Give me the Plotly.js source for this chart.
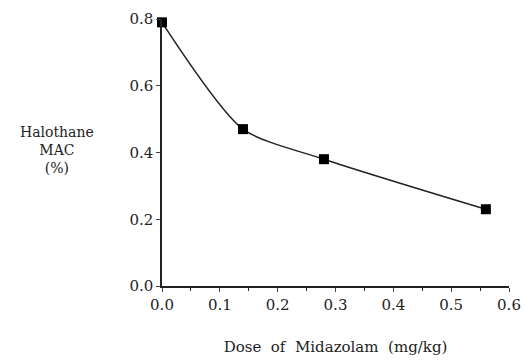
<!DOCTYPE html>
<html><head><meta charset="utf-8">
<script src="https://cdn.plot.ly/plotly-3.0.1.min.js"></script>
<style>body{margin:0;background:#fff}#c{width:525px;height:362px}</style>
</head><body><div id="c"></div>
<script>
const dose = [0.0, 0.14, 0.28, 0.56];
const mac = [0.79, 0.47, 0.38, 0.23];
const xTicks = [0, 0.1, 0.2, 0.3, 0.4, 0.5, 0.6];
const xTickLabels = ['0.0', '0.1', '0.2', '0.3', '0.4', '0.5', '0.6'];
const yTicks = [0, 0.2, 0.4, 0.6, 0.8];
const yTickLabels = ['0.0', '0.2', '0.4', '0.6', '0.8'];

const font = {family: 'DejaVu Serif, Liberation Serif, serif', color: '#222', size: 14};
Plotly.newPlot('c', [{
  x: dose, y: mac, type: 'scatter', mode: 'lines+markers',
  line: {color: '#222', width: 1.5, shape: 'spline', smoothing: 0.7},
  marker: {symbol: 'square', size: 10, color: '#000'},
  cliponaxis: false
}], {
  width: 525, height: 362,
  margin: {l: 162, r: 16, t: 19, b: 76},
  paper_bgcolor: '#fff', plot_bgcolor: '#fff',
  showlegend: false,
  font: font,
  xaxis: {range: [0, 0.6], tickvals: xTicks, ticktext: xTickLabels, ticks: 'outside', ticklen: 4,
    showline: true, linecolor: '#222', linewidth: 1.5, showgrid: false, zeroline: false,
    minor: {dtick: 0.05, ticks: 'outside', ticklen: 3, tickcolor: '#222', showgrid: false},
    tickfont: {size: 15}, title: {text: 'Dose  of  Midazolam  (mg/kg)', font: {size: 15}, standoff: 29}},
  yaxis: {range: [0, 0.8], tickvals: yTicks, ticktext: yTickLabels, ticks: 'outside', ticklen: 4,
    showline: true, linecolor: '#222', linewidth: 1.5, showgrid: false, zeroline: false,
    tickfont: {size: 15}},
  annotations: [{text: 'Halothane<br>MAC<br>(%)', xref: 'paper', yref: 'paper', x: -0.302, y: 0.51,
    showarrow: false, xanchor: 'center', yanchor: 'middle', font: {size: 14}}]
}, {displayModeBar: false});
</script></body></html>
